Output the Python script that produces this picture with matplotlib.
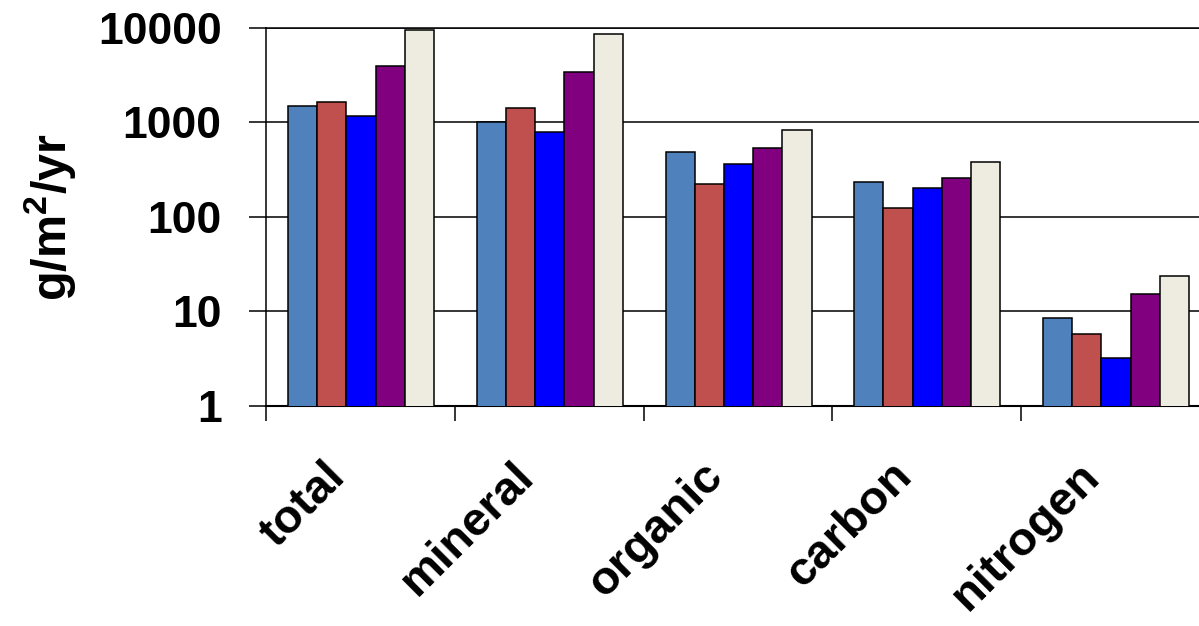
import numpy as np
import matplotlib.pyplot as plt
from matplotlib.transforms import ScaledTranslation

plt.rcParams['font.family'] = ['Liberation Sans', 'DejaVu Sans']
plt.rcParams['font.weight'] = 'bold'
plt.rcParams['mathtext.fontset'] = 'custom'
plt.rcParams['mathtext.rm'] = 'Liberation Sans:bold'
plt.rcParams['mathtext.bf'] = 'Liberation Sans:bold'

# данные
categories = ['total', 'mineral', 'organic', 'carbon', 'nitrogen']
series1 = [1480, 1000, 487, 233, 8.5]
series2 = [1650, 1410, 222, 125, 5.75]
series3 = [1155, 790, 361, 201, 3.2]
series4 = [3960, 3420, 533, 257, 15.3]
series5 = [9400, 8650, 827, 382, 23.8]
colors = ['#4F81BD', '#C0504D', '#0000FF', '#800080', '#EEECE1']
ytick_values = [1, 10, 100, 1000, 10000]
ytick_labels = ['1', '10', '100', '1000', '10000']

fig = plt.figure(figsize=(11.99, 6.26), dpi=100)
ax = fig.add_axes([266 / 1199, 1 - 405.7 / 626, 933 / 1199, 378 / 626])

x = np.arange(len(categories))
offset = 0.1166
w = 0.1547
for j, (vals, c) in enumerate(zip([series1, series2, series3, series4, series5], colors)):
    ax.bar(x + offset + j * w, vals, width=w, align='edge', color=c,
           edgecolor='black', linewidth=1.1, zorder=3)

ax.set_yscale('log')
ax.set_ylim(1, 10000)
ax.set_xlim(0, 933 / 188.75)
ax.set_yticks(ytick_values)
ax.set_yticklabels(ytick_labels)
ax.yaxis.set_minor_locator(plt.NullLocator())
ax.grid(axis='y', color='black', linewidth=1.1, zorder=1)

# основные деления между группами, подписи по центрам
ax.set_xticks(np.arange(len(categories)))
ax.set_xticklabels([])
ax.set_xticks(x + 0.5, minor=True)
ax.set_xticklabels(categories, minor=True, rotation=45, ha='right', va='center',
                   rotation_mode='anchor', fontsize=34, fontweight='bold')
ax.tick_params(axis='x', which='major', direction='out', length=11, width=1.1)
ax.tick_params(axis='x', which='minor', length=0, pad=46)
ax.tick_params(axis='y', direction='out', length=12, width=1.1, pad=20, labelsize=32)
for lab in ax.get_xticklabels(minor=True):
    lab.set_transform(lab.get_transform() + ScaledTranslation(-0.22, 0, fig.dpi_scale_trans))

ax.spines['right'].set_visible(False)
ax.spines['left'].set_linewidth(1.1)
ax.spines['top'].set_linewidth(1.1)
ax.spines['bottom'].set_linewidth(1.5)

ax.set_ylabel(r'g/m$^{2}$/yr', fontsize=35, fontweight='bold')
ax.yaxis.set_label_coords(-0.2, 0.5)

fig.savefig('out.png', dpi=100)
